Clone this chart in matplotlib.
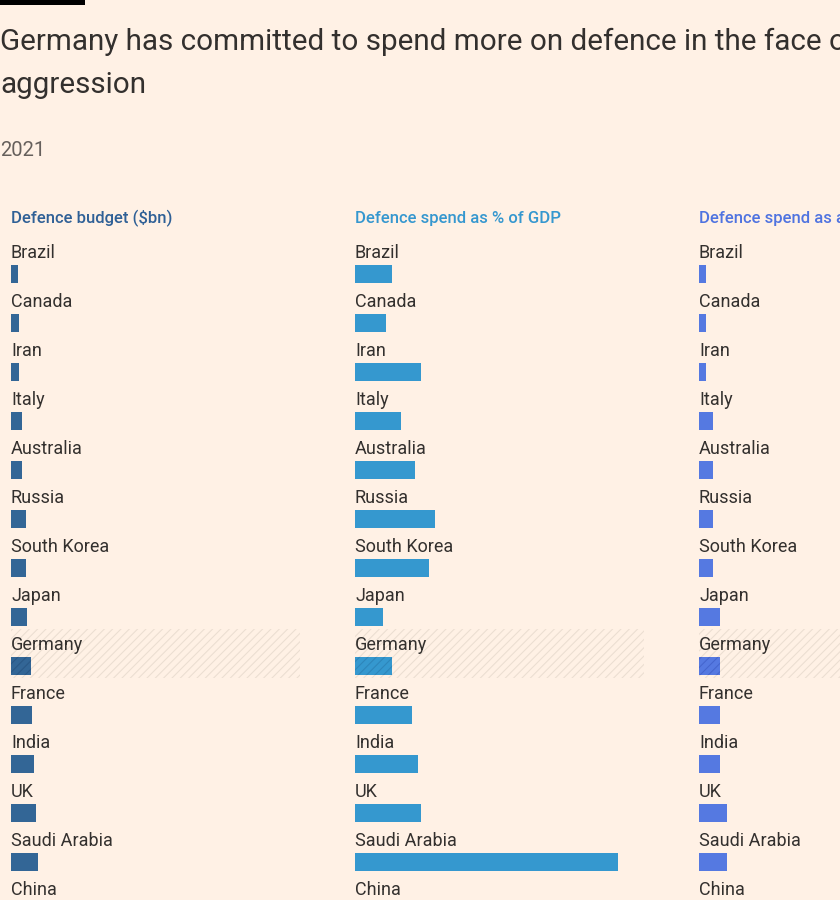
import matplotlib
matplotlib.use("Agg")
import matplotlib.pyplot as plt
from matplotlib.patches import Rectangle

# data (2021)
countries = ["Brazil", "Canada", "Iran", "Italy", "Australia", "Russia",
             "South Korea", "Japan", "Germany", "France", "India", "UK",
             "Saudi Arabia", "China", "US"]
budget_bn = [19.4, 20.8, 22, 30.5, 30.5, 41.5, 41.5, 44, 55, 58, 64, 69, 75, 210, 754]
pct_gdp = [1.32, 1.1, 2.36, 1.64, 2.14, 2.86, 2.64, 1.0, 1.32, 2.04, 2.25, 2.36, 9.4, 1.7, 3.3]
pct_global = [1, 1, 1, 2, 2, 2, 2, 3, 3, 3, 3, 4, 4, 14, 38]

panel_titles = ["Defence budget ($bn)", "Defence spend as % of GDP",
                "Defence spend as a % of global total"]
panel_values = [budget_bn, pct_gdp, pct_global]
panel_xmax = [800, 10.32, 41.3]
bar_colors = ["#336696", "#3598cf", "#5579e1"]
stripe_colors = ["#2a5886", "#2d86bb", "#4566cf"]
title_colors = ["#2f6096", "#3597cf", "#4f73e0"]

highlight = "Germany"
bg = "#fff1e5"
text_col = "#33302e"

W, H = 840, 900
plt.rcParams['font.family'] = ['Roboto', 'DejaVu Sans']
plt.rcParams['hatch.linewidth'] = 0.8

fig = plt.figure(figsize=(W / 100, H / 100), dpi=100)
fig.patch.set_facecolor(bg)

# black tag at top left
fig.patches.append(Rectangle((0, 1 - 5 / H), 85 / W, 5 / H, transform=fig.transFigure,
                             facecolor="black", edgecolor="none"))

fig.text(0, 1 - 42 / H, "Germany has committed to spend more on defence in the face of Russian",
         fontsize=21.3, color=text_col, va="center", ha="left")
fig.text(0, 1 - 85 / H, "aggression", fontsize=21.3, color=text_col, va="center", ha="left")
fig.text(0, 1 - 150 / H, "2021", fontsize=14.5, color="#66605c", va="center", ha="left")

row_px = 49
top_px = 237
n = len(countries)
for k in range(3):
    left_px = 11 + 344 * k
    bottom_px = top_px + row_px * n
    ax = fig.add_axes([left_px / W, 1 - bottom_px / H, 289 / W, (row_px * n) / H])
    ax.set_facecolor("none")
    ax.set_xlim(0, panel_xmax[k])
    ax.set_ylim(n, 0)
    ax.axis("off")
    vals = panel_values[k]
    for i, (c, v) in enumerate(zip(countries, vals)):
        if c == highlight:
            ax.axhspan(i, i + 1, facecolor="none", edgecolor="#ecdfd2",
                       hatch="////", linewidth=0, zorder=0)
            ax.barh(i + 0.755, v, height=0.38, color=bar_colors[k],
                    edgecolor=stripe_colors[k], hatch="////", linewidth=0, zorder=2)
        else:
            ax.barh(i + 0.755, v, height=0.38, color=bar_colors[k], linewidth=0, zorder=2)
        ax.text(0, i + 0.33, c, fontsize=13, color=text_col, va="center", ha="left",
                zorder=3)
    ax.text(0, -0.37, panel_titles[k], fontsize=12, fontweight="medium",
            color=title_colors[k], va="center", ha="left", clip_on=False)

fig.savefig("out.png", dpi=100, facecolor=bg)
